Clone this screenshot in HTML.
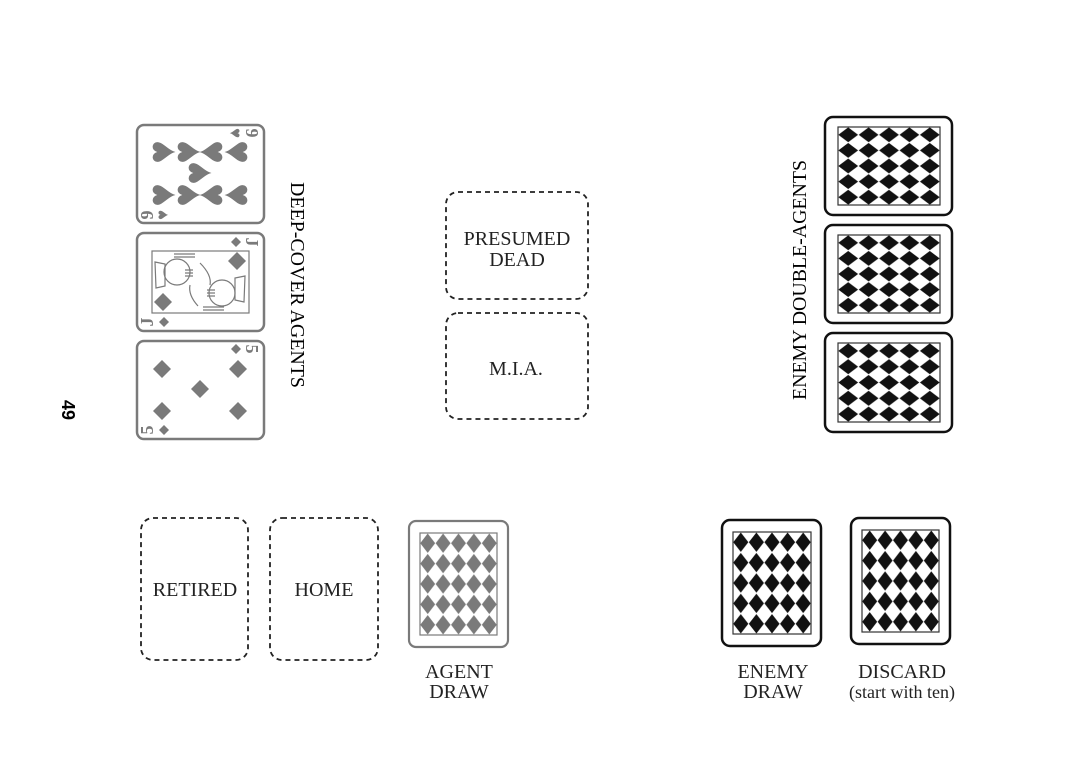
<!DOCTYPE html>
<html><head><meta charset="utf-8"><style>
html,body{margin:0;padding:0;background:#fff;}
svg{display:block;}
text{font-family:"Liberation Serif",serif;}
</style></head><body>
<svg width="1080" height="766" viewBox="0 0 1080 766" xmlns="http://www.w3.org/2000/svg">
<defs>
<pattern id="pv" width="0.2" height="0.2" patternContentUnits="objectBoundingBox">
<polygon points="0.1,0.005 0.197,0.1 0.1,0.195 0.003,0.1" fill="#111"/>
</pattern>
<pattern id="pvg" width="0.2" height="0.2" patternContentUnits="objectBoundingBox">
<polygon points="0.1,0.005 0.197,0.1 0.1,0.195 0.003,0.1" fill="#7a7a7a"/>
</pattern>
</defs>
<rect width="1080" height="766" fill="#fff"/>

<text x="0" y="0" transform="translate(62,410) rotate(90)" text-anchor="middle" font-weight="bold" font-size="18" style="font-family:'Liberation Sans',sans-serif">49</text>

<g stroke="#7a7a7a" stroke-width="2.5" fill="#fff">
<rect x="137" y="125" width="127" height="98" rx="7"/>
<rect x="137" y="233" width="127" height="98" rx="7"/>
<rect x="137" y="341" width="127" height="98" rx="7"/>
</g>
<g fill="#7a7a7a" font-size="40" text-anchor="middle" style="font-family:'DejaVu Sans',sans-serif">
<text transform="translate(162,152) rotate(-90)" y="13">♥</text>
<text transform="translate(187,152) rotate(-90)" y="13">♥</text>
<text transform="translate(213,152) rotate(90)" y="13">♥</text>
<text transform="translate(238,152) rotate(90)" y="13">♥</text>
<text transform="translate(198,173) rotate(-90)" y="13">♥</text>
<text transform="translate(162,195) rotate(-90)" y="13">♥</text>
<text transform="translate(187,195) rotate(-90)" y="13">♥</text>
<text transform="translate(213,195) rotate(90)" y="13">♥</text>
<text transform="translate(238,195) rotate(90)" y="13">♥</text>
</g>
<g fill="#7a7a7a" font-size="17" text-anchor="middle" style="font-family:'DejaVu Sans',sans-serif">
<text transform="translate(236,133) rotate(90)" y="6">♥</text>
<text transform="translate(162,215) rotate(-90)" y="6">♥</text>
</g>
<g fill="#7a7a7a" font-size="18" font-weight="bold" text-anchor="middle" style="font-family:'Liberation Sans',sans-serif">
<text transform="translate(252,133) rotate(90)" y="6">9</text>
<text transform="translate(147,215) rotate(-90)" y="6">9</text>
<text transform="translate(252,242) rotate(90)" y="6">J</text>
<text transform="translate(147,322) rotate(-90)" y="6">J</text>
<text transform="translate(252,349) rotate(90)" y="6">5</text>
<text transform="translate(147,430) rotate(-90)" y="6">5</text>
</g>
<g fill="#7a7a7a">
<polygon points="236,237 241,242 236,247 231,242"/>
<polygon points="164,317 169,322 164,327 159,322"/>
<polygon points="236,344 241,349 236,354 231,349"/>
<polygon points="164,425 169,430 164,435 159,430"/>
<polygon points="237,252 246,261 237,270 228,261"/>
<polygon points="163,293 172,302 163,311 154,302"/>
<polygon points="162,360 171,369 162,378 153,369"/>
<polygon points="238,360 247,369 238,378 229,369"/>
<polygon points="200,380 209,389 200,398 191,389"/>
<polygon points="162,402 171,411 162,420 153,411"/>
<polygon points="238,402 247,411 238,420 229,411"/>
</g>
<g stroke="#7a7a7a" stroke-width="1.2" fill="none">
<rect x="152" y="251" width="97" height="62"/>
<circle cx="177" cy="272" r="13"/>
<circle cx="222" cy="293" r="13"/>
<path d="M155 262 L165 264 L165 286 L156 288 Z"/>
<path d="M245 276 L235 278 L235 300 L244 302 Z"/>
<path d="M174 254 L195 254 M174 257 L195 257 M203 310 L224 310 M203 307 L224 307"/>
<path d="M185 270 h8 M185 273 h8 M185 276 h8 M207 290 h8 M207 293 h8 M207 296 h8"/>
<path d="M200 263 Q212 275 210 285 M190 285 Q188 295 198 306"/>
</g>

<text transform="translate(291,285) rotate(90)" text-anchor="middle" font-size="20" textLength="206" lengthAdjust="spacingAndGlyphs">DEEP-COVER AGENTS</text>

<g stroke="#222" stroke-width="1.8" fill="none" stroke-dasharray="5,4">
<rect x="446" y="192" width="142" height="107" rx="12"/>
<rect x="446" y="313" width="142" height="106" rx="12"/>
<rect x="141" y="518" width="107" height="142" rx="12"/>
<rect x="270" y="518" width="108" height="142" rx="12"/>
</g>
<g font-size="20" text-anchor="middle" fill="#222">
<text x="517" y="245">PRESUMED</text>
<text x="517" y="266">DEAD</text>
<text x="516" y="375">M.I.A.</text>
<text x="195" y="596">RETIRED</text>
<text x="324" y="596">HOME</text>
<text x="459" y="678">AGENT</text>
<text x="459" y="698">DRAW</text>
<text x="773" y="678">ENEMY</text>
<text x="773" y="698">DRAW</text>
<text x="902" y="678">DISCARD</text>
<text x="902" y="698" font-size="18">(start with ten)</text>
</g>

<rect x="409" y="521" width="99" height="126" rx="7" fill="#fff" stroke="#7a7a7a" stroke-width="2.2"/>
<rect x="420" y="533" width="77" height="102" fill="url(#pvg)" stroke="#7a7a7a" stroke-width="1.2"/>

<rect x="722" y="520" width="99" height="126" rx="8" fill="#fff" stroke="#111" stroke-width="2.5"/>
<rect x="733" y="532" width="78" height="102" fill="url(#pv)" stroke="#333" stroke-width="1.2"/>
<rect x="851" y="518" width="99" height="126" rx="8" fill="#fff" stroke="#111" stroke-width="2.5"/>
<rect x="862" y="530" width="77" height="102" fill="url(#pv)" stroke="#333" stroke-width="1.2"/>

<g>
<rect x="825" y="117" width="127" height="98" rx="8" fill="#fff" stroke="#111" stroke-width="2.5"/>
<rect x="825" y="225" width="127" height="98" rx="8" fill="#fff" stroke="#111" stroke-width="2.5"/>
<rect x="825" y="333" width="127" height="99" rx="8" fill="#fff" stroke="#111" stroke-width="2.5"/>
<rect x="838" y="127" width="102" height="78" fill="url(#pv)" stroke="#333" stroke-width="1.2"/>
<rect x="838" y="235" width="102" height="78" fill="url(#pv)" stroke="#333" stroke-width="1.2"/>
<rect x="838" y="343" width="102" height="79" fill="url(#pv)" stroke="#333" stroke-width="1.2"/>
</g>
<text transform="translate(806,280) rotate(-90)" text-anchor="middle" font-size="20" textLength="240" lengthAdjust="spacingAndGlyphs">ENEMY DOUBLE-AGENTS</text>
</svg>
</body></html>
